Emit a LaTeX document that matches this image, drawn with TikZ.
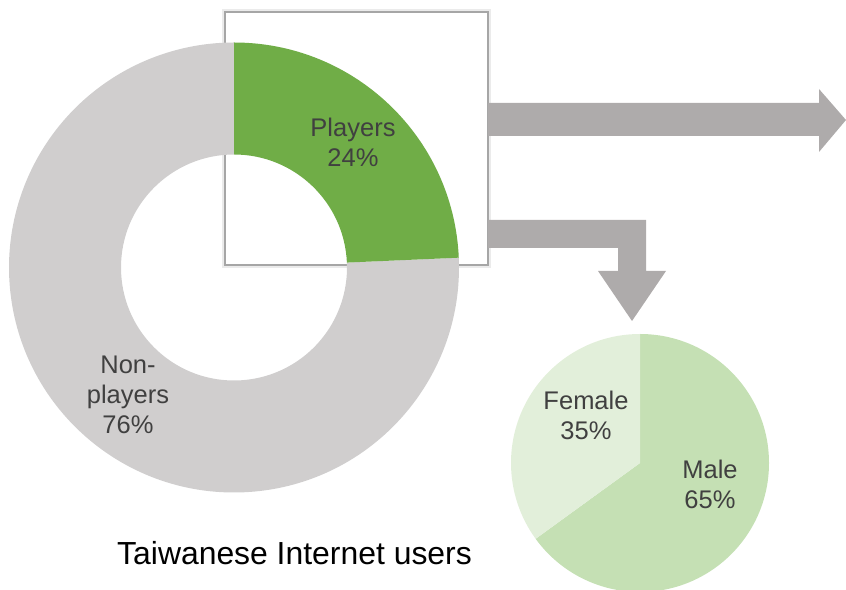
\documentclass[tikz,border=0pt]{standalone}
\usepackage{fontspec}
\setmainfont{Liberation Sans}
\usetikzlibrary{calc}

\definecolor{ringgray}{HTML}{D0CECE}
\definecolor{arrowgray}{HTML}{AEABAB}
\definecolor{boxgray}{HTML}{A6A6A6}
\definecolor{playgreen}{HTML}{70AD47}
\definecolor{malegreen}{HTML}{C5E0B4}
\definecolor{femalegreen}{HTML}{E2EFDA}
\definecolor{labeltext}{HTML}{404040}

\tikzset{
	share/.style={text=labeltext,align=center,font=\fontsize{25.5}{30}\selectfont},
}

\begin{document}
\begin{tikzpicture}[x=1pt,y=1pt]

	\useasboundingbox (0,0) rectangle (846,589);

	\coordinate (c) at (234,321.5);
	\coordinate (p) at (640,126);

	\draw[line width=6pt,black!8] (225,324) rectangle (488,577);
	\draw[line width=2.5pt,boxgray,fill=white] (225,324) rectangle (488,577);

	\fill[ringgray] ($(c)+(2.5:225)$) arc[start angle=2.5,end angle=-270,radius=225]
		-- ($(c)+(90:113)$) arc[start angle=90,end angle=362.5,radius=113] -- cycle;
	\fill[playgreen] ($(c)+(90:225)$) arc[start angle=90,end angle=2.5,radius=225]
		-- ($(c)+(2.5:113)$) arc[start angle=2.5,end angle=90,radius=113] -- cycle;

	\fill[arrowgray] (488,453) -- (819,453) -- (819,437) -- (846,469)
		-- (819,500) -- (819,486) -- (488,486) -- cycle;
	\fill[arrowgray] (488,341) -- (618,341) -- (618,318) -- (598,318) -- (632,268)
		-- (666,318) -- (646,318) -- (646,369) -- (488,369) -- cycle;

	\fill[malegreen] (p) -- ($(p)+(90:129)$) arc[start angle=90,end angle=-144,radius=129] -- cycle;
	\fill[femalegreen] (p) -- ($(p)+(90:129)$) arc[start angle=90,end angle=216,radius=129] -- cycle;

	\node[share] (players) at (353,447) {Players\\24\%};
	\node[share] (nonplayers) at (128,194) {Non-\\players\\76\%};
	\node[share] (female) at (586,174) {Female\\35\%};
	\node[share] (male) at (710,105) {Male\\65\%};

	\node[anchor=base west,inner sep=0pt,font=\fontsize{31.9}{36}\selectfont] (title) at (117,24) {Taiwanese Internet users};

\end{tikzpicture}
\end{document}
